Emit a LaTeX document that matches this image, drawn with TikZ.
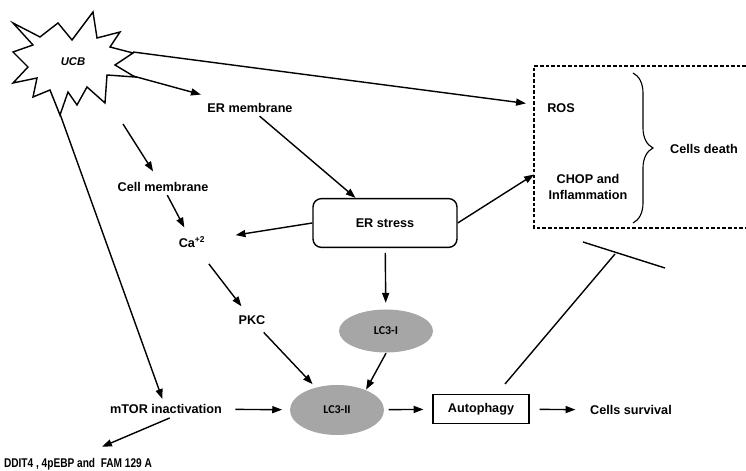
\documentclass[tikz,border=0pt]{standalone}
\usepackage{fontspec}
\setmainfont{Liberation Sans}
\newfontfamily\lcfont{Carlito}
\newfontfamily\narrowfont[FakeStretch=0.8]{Liberation Sans}
\usetikzlibrary{arrows.meta,shapes.geometric,decorations.pathreplacing,calc}
\definecolor{lcgray}{RGB}{166,166,166}

\begin{document}
\begin{tikzpicture}[x=0.025cm,y=-0.025cm,>={Triangle[length=7pt,width=5pt]},line width=1pt,
                    font=\fontsize{9}{11}\selectfont\bfseries]
  \tikzstyle{txt}=[inner sep=2pt]
  \tikzstyle{oval}=[ellipse,fill=lcgray,minimum width=2.35cm,inner sep=1pt,
                    font=\fontsize{8.5}{10}\selectfont\lcfont\bfseries]
  \tikzstyle{box}=[draw,rectangle]
  \tikzstyle{every edge}=[draw,->]
  \useasboundingbox (0,0) rectangle (746,471);

  % the UCB star
  \draw (13,23) -- (40,37) -- (58,23) -- (72,40) -- (93,12) -- (97,38) -- (120,32)
     -- (110,47) -- (133,53) -- (115,65) -- (135,77) -- (107,75) -- (105,103)
     -- (87,87) -- (77,105) -- (68,92) -- (60,115) -- (50,90) -- (33,97)
     -- (37,78) -- (13,83) -- (28,67) -- (13,52) -- (33,45) -- cycle;
  \node[txt,font=\fontsize{8}{10}\selectfont\bfseries\itshape] (ucb) at (73,62) {UCB};
  \coordinate (ucbtipr) at (133,52);
  \coordinate (ucbtipe) at (133,76);
  \coordinate (ucbtipb) at (60,114);
  \coordinate (cellstart) at (123,124);

  \node[txt] (ermem)   at (250,108) {ER membrane};
  \node[txt] (cellmem) at (163,187) {Cell membrane};
  \node[txt] (ca)      at (192,242) {Ca\textsuperscript{+2}};
  \node[txt] (pkc)     at (252,320) {PKC};
  \node[box,rounded corners=6pt,minimum width=3.6cm,minimum height=1.22cm] (erstress) at (385,223) {ER stress};
  \node[oval,minimum height=1.075cm] (lc3i)  at (386,331) {LC3-I};
  \node[oval,minimum height=1.25cm]  (lc3ii) at (337,410) {LC3-II};
  \node[txt] (mtor) at (166,409) {mTOR inactivation};
  \node[txt,font=\fontsize{9}{11}\selectfont\narrowfont\bfseries] (ddit) at (78,464) {DDIT4 , 4pEBP and\ \ FAM 129 A};
  \node[box,minimum width=2.4cm,minimum height=0.725cm] (autophagy) at (481,409) {Autophagy};
  \node[txt] (survival) at (631,410) {Cells survival};

  % cells death group
  \coordinate (dne) at (746,66);
  \coordinate (dnw) at (534,66);
  \coordinate (dsw) at (534,228);
  \coordinate (dse) at (746,228);
  \draw[dash pattern=on 2.5pt off 1.5pt] (dne) -- (dnw) -- (dsw) -- (dse);
  \node[txt] (ros) at (561,108) {ROS};
  \node[txt,align=center,font=\fontsize{9}{12}\selectfont\bfseries] (chop) at (588,187) {CHOP and\\Inflammation};
  \draw[line width=0.8pt,decorate,decoration={brace,amplitude=0.5cm}] (633,73) -- (633,223);
  \node[txt] (death) at (704,149) {Cells death};

  % inhibition
  \coordinate (inhstart) at (505,384);
  \coordinate (inhend) at (615,254);
  \coordinate (bar1) at (583,242);
  \coordinate (bar2) at (665,268);
  \draw (inhstart) -- (inhend) (bar1) -- (bar2);

  \path
        (ucbtipr)       edge [shorten >=0.45cm] (ros)
        (ucbtipe)       edge [shorten >=0.5cm]  (ermem)
        (cellstart)     edge [shorten >=0.22cm] (cellmem)
        (ucbtipb)       edge [shorten >=0.05cm] (mtor)
        (ermem)         edge                    (erstress)
        (cellmem)       edge [shorten >=0.15cm] (ca)
        (erstress.west) edge [shorten >=0.68cm] (ca)
        (erstress.east) edge                    ($(dnw)!0.67!(dsw)$)
        (ca)            edge [shorten <=0.4cm,shorten >=0.18cm] (pkc)
        (erstress)      edge [shorten <=0.12cm,shorten >=0.15cm] (lc3i)
        (pkc)           edge [shorten <=0.15cm,shorten >=0.1cm] (lc3ii)
        (lc3i.south)    edge                    (lc3ii.35)
        (mtor)          edge [shorten <=0.25cm,shorten >=0.18cm] (lc3ii)
        (lc3ii)         edge [shorten <=0.1cm,shorten >=0.22cm] (autophagy)
        (autophagy)     edge [shorten <=0.25cm,shorten >=0.28cm] (survival)
        ([xshift=4]mtor.south) edge [shorten <=0.05cm,shorten >=0.5cm] ([xshift=4]ddit.north);
\end{tikzpicture}
\end{document}
